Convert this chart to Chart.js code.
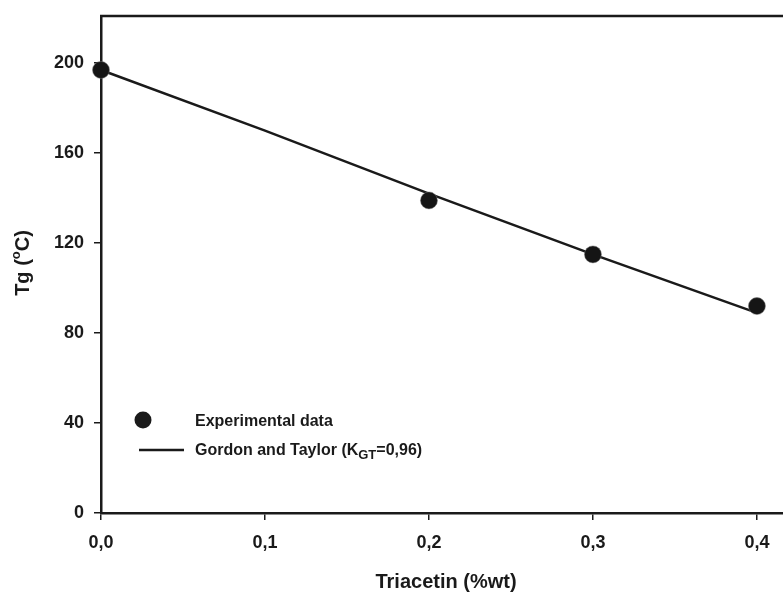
<!DOCTYPE html>
<html>
<head>
<meta charset="utf-8">
<script src="https://cdn.jsdelivr.net/npm/chart.js@4.4.0/dist/chart.umd.min.js"></script>
<style>
  html, body { margin: 0; padding: 0; background: #fff; }
  #wrap { width: 783px; height: 595px; }
</style>
</head>
<body>
<div id="wrap"><canvas id="tgChart" width="783" height="595"></canvas></div>
<script>
// triacetin content (weight fraction) and measured Tg
var expX = [0.0, 0.2, 0.3, 0.4];
var expTg = [197, 139, 115, 92];

// Gordon and Taylor fit
var fitX = [0.0, 0.1, 0.2, 0.3, 0.4];
var fitTg = [197, 170, 142, 115, 89];

var yTicks = [0, 40, 80, 120, 160, 200];
var xTicks = [0.0, 0.1, 0.2, 0.3, 0.4];

var ink = "#1a1a1a";
var font = "'Liberation Sans', Arial, sans-serif";

function toPoints(xs, ys) {
    return xs.map(function (x, i) { return { x: x, y: ys[i] }; });
}

// frame top, axis titles and the inset legend
var decorations = {
    id: "decorations",
    afterDraw: function (chart) {
        var ctx = chart.ctx;
        var area = chart.chartArea;
        ctx.save();

        ctx.strokeStyle = ink;
        ctx.lineWidth = 2.5;
        ctx.beginPath();
        ctx.moveTo(area.left - 1, area.top);
        ctx.lineTo(783, area.top);
        ctx.stroke();

        ctx.fillStyle = ink;
        ctx.textBaseline = "alphabetic";

        // x title
        ctx.font = "bold 20px " + font;
        ctx.textAlign = "center";
        ctx.fillText("Triacetin (%wt)", 446, 588);

        // y title, rotated, with superscript o
        ctx.save();
        ctx.translate(29, 263);
        ctx.rotate(-Math.PI / 2);
        ctx.textAlign = "left";
        var a = "Tg (", b = "o", c = "C)";
        ctx.font = "bold 20px " + font;
        var wa = ctx.measureText(a).width;
        var wc = ctx.measureText(c).width;
        ctx.font = "bold 13px " + font;
        var wb = ctx.measureText(b).width;
        var start = -(wa + wb + wc) / 2;
        ctx.font = "bold 20px " + font;
        ctx.fillText(a, start, 0);
        ctx.font = "bold 13px " + font;
        ctx.fillText(b, start + wa, -9);
        ctx.font = "bold 20px " + font;
        ctx.fillText(c, start + wa + wb, 0);
        ctx.restore();

        // legend
        ctx.beginPath();
        ctx.arc(143, 420, 8.5, 0, Math.PI * 2);
        ctx.fill();
        ctx.beginPath();
        ctx.lineWidth = 2.5;
        ctx.moveTo(139, 450);
        ctx.lineTo(184, 450);
        ctx.stroke();

        ctx.textAlign = "left";
        ctx.font = "bold 16px " + font;
        ctx.fillText("Experimental data", 195, 426);
        var t1 = "Gordon and Taylor (K";
        ctx.fillText(t1, 195, 455);
        var x = 195 + ctx.measureText(t1).width;
        ctx.font = "bold 13px " + font;
        ctx.fillText("GT", x, 459);
        x += ctx.measureText("GT").width;
        ctx.font = "bold 16px " + font;
        ctx.fillText("=0,96)", x, 455);

        ctx.restore();
    }
};

function noPadding(scale) {
    scale.paddingLeft = 0;
    scale.paddingRight = 0;
    scale.paddingTop = 0;
    scale.paddingBottom = 0;
}

function renderTgChart() {
    var ctx = document.getElementById("tgChart").getContext("2d");

    var myChart = new Chart(ctx, {
        type: "scatter",
        data: {
            datasets: [
                {
                    label: "Experimental data",
                    data: toPoints(expX, expTg),
                    backgroundColor: "#151515",
                    borderColor: "#777",
                    borderWidth: 0.5,
                    pointRadius: 8.5,
                    clip: false,
                },
                {
                    type: "line",
                    label: "Gordon and Taylor (KGT=0,96)",
                    data: toPoints(fitX, fitTg),
                    borderColor: ink,
                    borderWidth: 2.5,
                    pointRadius: 0,
                    tension: 0,
                    fill: false,
                    clip: false,
                },
            ],
        },
        plugins: [decorations],
        options: {
            responsive: false,
            animation: false,
            layout: {
                autoPadding: false,
                padding: { top: 16, right: 0, left: 0, bottom: 0 },
            },
            plugins: {
                legend: { display: false },
                tooltip: { enabled: false },
            },
            scales: {
                x: {
                    type: "linear",
                    min: 0,
                    max: 0.4159,
                    afterBuildTicks: function (scale) {
                        scale.ticks = xTicks.map(function (v) { return { value: v }; });
                    },
                    afterFit: function (scale) {
                        scale.height = 82;
                        noPadding(scale);
                    },
                    ticks: {
                        color: ink,
                        padding: 12,
                        font: { family: font, size: 18, weight: "bold" },
                        callback: function (v) { return v.toFixed(1).replace(".", ","); },
                    },
                    grid: {
                        drawOnChartArea: false,
                        color: ink,
                        lineWidth: 1.5,
                        tickLength: 7,
                    },
                    border: { display: true, color: ink, width: 2.5 },
                },
                y: {
                    min: 0,
                    max: 221,
                    afterBuildTicks: function (scale) {
                        scale.ticks = yTicks.map(function (v) { return { value: v }; });
                    },
                    afterFit: function (scale) {
                        scale.width = 101;
                        noPadding(scale);
                    },
                    ticks: {
                        color: ink,
                        padding: 10,
                        font: { family: font, size: 18, weight: "bold" },
                    },
                    grid: {
                        drawOnChartArea: false,
                        color: ink,
                        lineWidth: 1.5,
                        tickLength: 7,
                    },
                    border: { display: true, color: ink, width: 2.5 },
                },
            },
        },
    });
}

document.addEventListener("DOMContentLoaded", function () {
    renderTgChart();
});
</script>
</body>
</html>
